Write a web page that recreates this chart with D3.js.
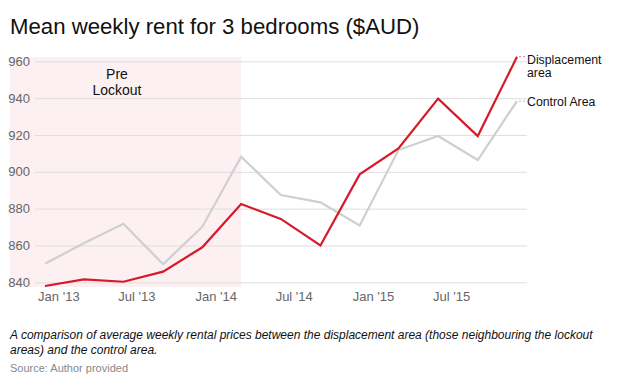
<!DOCTYPE html>
<html><head><meta charset="utf-8">
<script src="https://cdn.jsdelivr.net/npm/d3@7"></script>
<style>
body{margin:0;background:#fff;}
svg{display:block;font-family:"Liberation Sans",Arial,Helvetica,sans-serif;}
</style></head>
<body>
<svg id="c" width="618" height="386"></svg>
<script>
const dates = ["2012-12-01","2013-03-01","2013-06-01","2013-09-01","2013-12-01","2014-03-01","2014-06-01","2014-09-01","2014-12-01","2015-03-01","2015-06-01","2015-09-01","2015-12-01"];
const displacement = [838,841.6,840.3,845.8,859,882.5,874.4,860,898.6,912.7,939.7,919.4,962.5];
const control = [850.1,861.2,871.8,849.8,870.2,908.2,887.4,883.4,870.9,911.8,919.4,906.4,938.4];
const yTicks = [840,860,880,900,920,940,960];
const xTickDates = ["2013-01-01","2013-07-01","2014-01-01","2014-07-01","2015-01-01","2015-07-01"];
const preLockoutEnd = "2014-03-01";

const parse = d3.utcParse("%Y-%m-%d");
const svg = d3.select("#c");
const x = d3.scaleUtc().domain([parse(dates[0]), parse(dates[dates.length-1])]).range([45,517]);
const y = d3.scaleLinear().domain([840,960]).range([282.3,61.3]);

// title
svg.append("text").attr("x",10).attr("y",34).attr("font-size",22.2).attr("fill","#111")
  .text("Mean weekly rent for 3 bedrooms ($AUD)");

// shaded region
svg.append("rect").attr("x",10).attr("y",57).attr("width",x(parse(preLockoutEnd))-10).attr("height",230)
  .attr("fill","#fcf0f2");

// gridlines + y labels
const yAxis = d3.axisLeft(y).tickValues(yTicks).tickSize(-(527-35)).tickPadding(5);
const gy = svg.append("g").attr("transform","translate(35,0)").call(yAxis);
gy.select(".domain").remove();
gy.selectAll(".tick line").attr("stroke","#dedede");
gy.selectAll(".tick text").attr("fill","#666").attr("font-size",13).attr("font-family","Liberation Sans, Arial, sans-serif");

// x labels
const xAxis = d3.axisBottom(x).tickValues(xTickDates.map(parse)).tickFormat(d3.utcFormat("%b '%y")).tickSize(0).tickPadding(0);
const gx = svg.append("g").attr("transform","translate(0,292)").call(xAxis);
gx.select(".domain").remove();
gx.selectAll(".tick text").attr("fill","#666").attr("font-size",13).attr("dy","0.71em").attr("font-family","Liberation Sans, Arial, sans-serif");

// pre lockout label
const pl = svg.append("text").attr("x",117).attr("text-anchor","middle").attr("font-size",14).attr("fill","#111");
pl.append("tspan").attr("x",117).attr("y",79).text("Pre");
pl.append("tspan").attr("x",117).attr("y",95).text("Lockout");

const line = d3.line().x((d,i)=>x(parse(dates[i]))).y(d=>y(d));
svg.append("path").datum(control).attr("d",line).attr("fill","none").attr("stroke","#cfcfcf").attr("stroke-width",2.2).attr("stroke-linejoin","miter");
svg.append("path").datum(displacement).attr("d",line).attr("fill","none").attr("stroke","#d7192a").attr("stroke-width",2.2).attr("stroke-linejoin","miter");

// legend connectors
const last = dates.length-1;
const lx = x(parse(dates[last]));
svg.append("line").attr("x1",lx+2).attr("x2",lx+8).attr("y1",y(displacement[last])).attr("y2",y(displacement[last]))
  .attr("stroke","#e57a83").attr("stroke-width",1).attr("stroke-dasharray","2,2");
svg.append("line").attr("x1",lx+2).attr("x2",lx+8).attr("y1",y(control[last])).attr("y2",y(control[last]))
  .attr("stroke","#bbb").attr("stroke-width",1).attr("stroke-dasharray","2,2");

const lg = svg.append("text").attr("font-size",12.3).attr("fill","#111");
lg.append("tspan").attr("x",lx+10).attr("y",y(displacement[last])+7.5).text("Displacement");
lg.append("tspan").attr("x",lx+10).attr("y",y(displacement[last])+20).text("area");
svg.append("text").attr("font-size",12.3).attr("fill","#111").attr("x",lx+10).attr("y",y(control[last])+5).text("Control Area");

// caption
const cap = svg.append("text").attr("font-size",12).attr("font-style","italic").attr("fill","#111");
cap.append("tspan").attr("x",10).attr("y",338.5).text("A comparison of average weekly rental prices between the displacement area (those neighbouring the lockout");
cap.append("tspan").attr("x",10).attr("y",353.5).text("areas) and the control area.");
svg.append("text").attr("x",10).attr("y",372).attr("font-size",11).attr("fill","#888").text("Source: Author provided");
</script>
</body></html>
